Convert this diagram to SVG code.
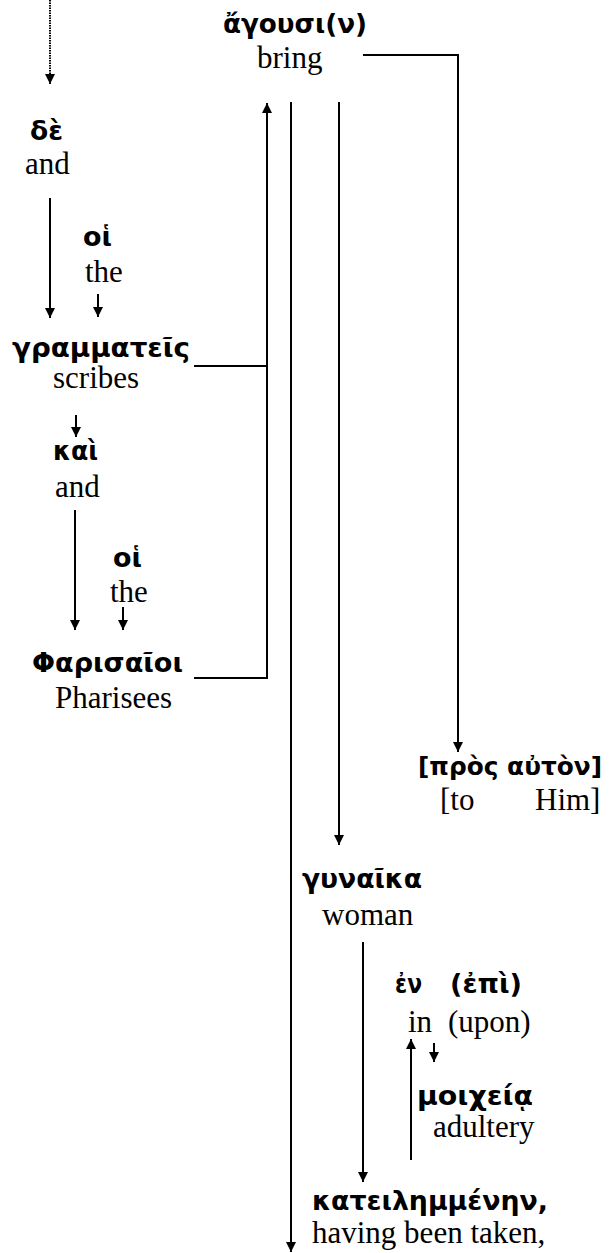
<svg xmlns="http://www.w3.org/2000/svg" width="611" height="1253" viewBox="0 0 611 1253">
<style>
.g{font-family:"DejaVu Sans","Noto Sans",sans-serif;font-weight:bold;font-size:27px;fill:#000}
.e{font-family:"Liberation Serif","Times New Roman",serif;font-size:31px;fill:#000}
.c{fill:none;stroke:#000;stroke-width:2}
.a{marker-end:url(#ah)}
</style>
<defs>
<marker id="ah" markerUnits="userSpaceOnUse" markerWidth="10" markerHeight="10" refX="10" refY="5" orient="auto" viewBox="0 0 10 10">
<path d="M0,0 L10,5 L0,10 z" fill="#000"/>
</marker>
</defs>
<rect width="611" height="1253" fill="#fff"/>
<g id="connectors">
<path class="c a" d="M50,0 V84" stroke-dasharray="1.5,1"/>
<path class="c a" d="M50,198 V318"/>
<path class="c a" d="M98,294 V317"/>
<path class="c" d="M194,366 H267"/>
<path class="c a" d="M194,678 H267 V103"/>
<path class="c a" d="M76,415 V437"/>
<path class="c a" d="M75,510 V630"/>
<path class="c a" d="M123,607 V630"/>
<path class="c a" d="M291,102 V1252"/>
<path class="c a" d="M339,102 V845"/>
<path class="c a" d="M363,55 H458 V752"/>
<path class="c a" d="M363,942 V1182"/>
<path class="c a" d="M411,1160 V1039"/>
<path class="c a" d="M434,1043 V1062"/>
</g>
<g id="n-agousi"><text class="g" x="223" y="33" textLength="144" lengthAdjust="spacingAndGlyphs">ἄγουσι(ν)</text><text class="e" x="257" y="68">bring</text></g>
<g id="n-de"><text class="g" x="30" y="140" textLength="33" lengthAdjust="spacingAndGlyphs">δὲ</text><text class="e" x="25" y="174">and</text></g>
<g id="n-hoi1"><text class="g" x="83" y="246" textLength="29" lengthAdjust="spacingAndGlyphs">οἱ</text><text class="e" x="85" y="282">the</text></g>
<g id="n-grammateis"><text class="g" x="12" y="357" textLength="178" lengthAdjust="spacingAndGlyphs">γραμματεῖς</text><text class="e" x="53" y="388">scribes</text></g>
<g id="n-kai"><text class="g" x="53" y="460" textLength="45" lengthAdjust="spacingAndGlyphs">καὶ</text><text class="e" x="55" y="497">and</text></g>
<g id="n-hoi2"><text class="g" x="113" y="567" textLength="29" lengthAdjust="spacingAndGlyphs">οἱ</text><text class="e" x="110" y="602">the</text></g>
<g id="n-pharisaioi"><text class="g" x="32" y="672" textLength="151" lengthAdjust="spacingAndGlyphs">Φαρισαῖοι</text><text class="e" x="55" y="708">Pharisees</text></g>
<g id="n-pros"><text class="g" x="418" y="775" style="font-size:25px" textLength="184" lengthAdjust="spacingAndGlyphs">[πρὸς αὐτὸν]</text><text class="e" y="810"><tspan x="440">[to</tspan><tspan x="535">Him]</tspan></text></g>
<g id="n-gynaika"><text class="g" x="302" y="888" textLength="120" lengthAdjust="spacingAndGlyphs">γυναῖκα</text><text class="e" x="322" y="925">woman</text></g>
<g id="n-en"><text class="g" x="395" y="993" textLength="27" lengthAdjust="spacingAndGlyphs">ἐν</text><text class="g" x="450" y="993" textLength="72" lengthAdjust="spacingAndGlyphs">(ἐπὶ)</text><text class="e" y="1032"><tspan x="408">in</tspan><tspan x="448">(upon)</tspan></text></g>
<g id="n-moicheia"><text class="g" x="417" y="1105" textLength="116" lengthAdjust="spacingAndGlyphs">μοιχείᾳ</text><text class="e" x="433" y="1137">adultery</text></g>
<g id="n-kateilemmenen"><text class="g" x="312" y="1210" textLength="236" lengthAdjust="spacingAndGlyphs">κατειλημμένην,</text><text class="e" x="312" y="1243">having been taken,</text></g>
</svg>
